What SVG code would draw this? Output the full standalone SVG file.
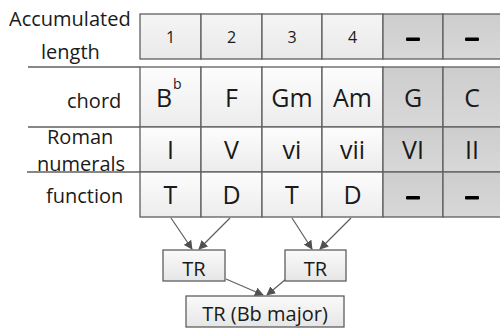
<svg xmlns="http://www.w3.org/2000/svg" width="500" height="332" viewBox="0 0 500 332">
<style>
text{font-family:"Open Sans","Noto Sans","DejaVu Sans",sans-serif;fill:#1a1a1a}
.lbl{font-size:20px}
.cell{stroke:#5f5f5f;stroke-width:1.3}
.w{fill:url(#gw)}
.w1{fill:url(#gw1)}
.g{fill:url(#gg)}
.ct{font-size:25px;text-anchor:middle}
.nt{font-size:16px;text-anchor:middle}
.dash{fill:#000}
.sep{stroke:#5f5f5f;stroke-width:1.3}
.box{fill:url(#gb);stroke:#5f5f5f;stroke-width:1.3}
.bt{font-size:20px;text-anchor:middle}
.arr{stroke:#5f5f5f;stroke-width:1.2;fill:none;marker-end:url(#ah)}
</style>
<defs>
<linearGradient id="gw" x1="0" y1="0" x2="0" y2="1"><stop offset="0" stop-color="#fdfdfd"/><stop offset="1" stop-color="#ececec"/></linearGradient>
<linearGradient id="gw1" x1="0" y1="0" x2="0" y2="1"><stop offset="0" stop-color="#f5f5f5"/><stop offset="1" stop-color="#e9e9e9"/></linearGradient>
<linearGradient id="gg" x1="0" y1="0" x2="0" y2="1"><stop offset="0" stop-color="#cdcdcd"/><stop offset="1" stop-color="#d8d8d8"/></linearGradient>
<linearGradient id="gb" x1="0" y1="0" x2="0" y2="1"><stop offset="0" stop-color="#fafafa"/><stop offset="1" stop-color="#e6e6e6"/></linearGradient>
<marker id="ah" viewBox="0 0 10 10" refX="9" refY="5" markerWidth="9" markerHeight="9" markerUnits="userSpaceOnUse" orient="auto"><path d="M0,0 L10,5 L0,10 z" fill="#505050"/></marker>
</defs>

<g id="row-labels">
<text class="lbl" x="9" y="26">Accumulated</text>
<text class="lbl" x="41" y="59">length</text>
<text class="lbl" x="67" y="108">chord</text>
<text class="lbl" x="47" y="144">Roman</text>
<text class="lbl" x="37" y="171">numerals</text>
<text class="lbl" x="46" y="203">function</text>
<line class="sep" x1="28" y1="67" x2="140" y2="67"/>
<line class="sep" x1="28" y1="127" x2="140" y2="127"/>
<line class="sep" x1="27" y1="172" x2="140" y2="172"/>
</g>

<g id="row-length">
<rect class="cell w1" x="140" y="14" width="61" height="45"/>
<rect class="cell w1" x="201" y="14" width="61" height="45"/>
<rect class="cell w1" x="262" y="14" width="60" height="45"/>
<rect class="cell w1" x="322" y="14" width="61" height="45"/>
<rect class="cell g" x="383" y="14" width="60" height="45"/>
<rect class="cell g" x="443" y="14" width="60" height="45"/>
<text class="nt" x="170.5" y="43">1</text>
<text class="nt" x="231.5" y="43">2</text>
<text class="nt" x="292" y="43">3</text>
<text class="nt" x="352.5" y="43">4</text>
<rect class="dash" x="406" y="37.5" width="14" height="3.5" rx="1"/>
<rect class="dash" x="465" y="37.5" width="14" height="3.5" rx="1"/>
</g>

<g id="row-chord">
<rect class="cell w" x="140" y="67" width="61" height="60"/>
<rect class="cell w" x="201" y="67" width="61" height="60"/>
<rect class="cell w" x="262" y="67" width="60" height="60"/>
<rect class="cell w" x="322" y="67" width="61" height="60"/>
<rect class="cell g" x="383" y="67" width="60" height="60"/>
<rect class="cell g" x="443" y="67" width="60" height="60"/>
<text class="ct" x="164" y="107">B</text>
<text x="173" y="89" style="font-size:14px">b</text>
<text class="ct" x="231.5" y="107">F</text>
<text class="ct" x="292" y="107">Gm</text>
<text class="ct" x="352.5" y="107">Am</text>
<text class="ct" x="413" y="107">G</text>
<text class="ct" x="472" y="107">C</text>
</g>

<g id="row-roman">
<rect class="cell w" x="140" y="127" width="61" height="45"/>
<rect class="cell w" x="201" y="127" width="61" height="45"/>
<rect class="cell w" x="262" y="127" width="60" height="45"/>
<rect class="cell w" x="322" y="127" width="61" height="45"/>
<rect class="cell g" x="383" y="127" width="60" height="45"/>
<rect class="cell g" x="443" y="127" width="60" height="45"/>
<text class="ct" x="170.5" y="159">I</text>
<text class="ct" x="231.5" y="159">V</text>
<text class="ct" x="292" y="159">vi</text>
<text class="ct" x="352.5" y="159">vii</text>
<text class="ct" x="413" y="159">VI</text>
<text class="ct" x="472" y="159">II</text>
</g>

<g id="row-function">
<rect class="cell w" x="140" y="172" width="61" height="45"/>
<rect class="cell w" x="201" y="172" width="61" height="45"/>
<rect class="cell w" x="262" y="172" width="60" height="45"/>
<rect class="cell w" x="322" y="172" width="61" height="45"/>
<rect class="cell g" x="383" y="172" width="60" height="45"/>
<rect class="cell g" x="443" y="172" width="60" height="45"/>
<text class="ct" x="170.5" y="204">T</text>
<text class="ct" x="231.5" y="204">D</text>
<text class="ct" x="292" y="204">T</text>
<text class="ct" x="352.5" y="204">D</text>
<rect class="dash" x="406" y="196" width="14" height="3.5" rx="1"/>
<rect class="dash" x="465" y="196" width="14" height="3.5" rx="1"/>
</g>

<g id="connectors">
<line class="arr" x1="171" y1="218" x2="192" y2="249"/>
<line class="arr" x1="230" y1="218" x2="199" y2="249"/>
<line class="arr" x1="292" y1="218" x2="312" y2="249"/>
<line class="arr" x1="351" y1="218" x2="320" y2="249"/>
<line class="arr" x1="226" y1="279" x2="263" y2="295"/>
<line class="arr" x1="286" y1="279" x2="267" y2="295"/>
</g>

<g id="node-tr1">
<rect class="box" x="163" y="250" width="62" height="31"/>
<text class="bt" x="194" y="276">TR</text>
</g>
<g id="node-tr2">
<rect class="box" x="285" y="250" width="61" height="31"/>
<text class="bt" x="315.5" y="276">TR</text>
</g>
<g id="node-tr3">
<rect class="box" x="186" y="296" width="158" height="31"/>
<text class="bt" x="265" y="321">TR (Bb major)</text>
</g>
</svg>
